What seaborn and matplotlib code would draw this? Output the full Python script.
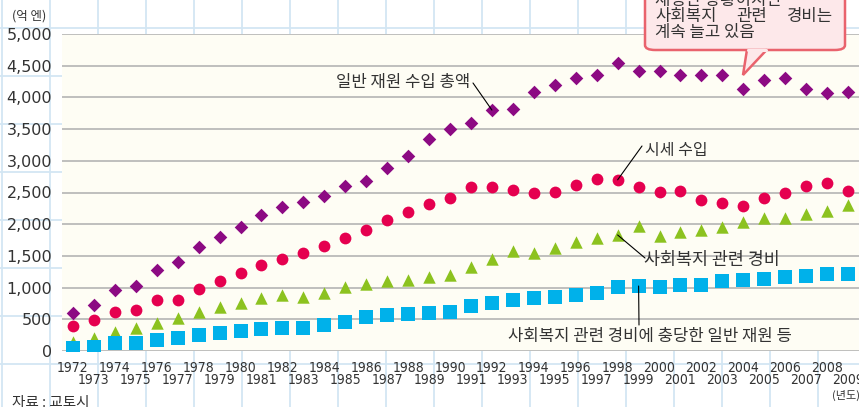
import numpy as np
import pandas as pd
import matplotlib.pyplot as plt
import seaborn as sns
from matplotlib.patches import FancyBboxPatch, Polygon
from matplotlib.lines import Line2D

years = list(range(1972, 2010))

# 일반 재원 수입 총액
general_revenue = [600, 725, 960, 1025, 1280, 1400, 1640, 1800, 1955, 2145,
                   2270, 2350, 2445, 2600, 2680, 2890, 3075, 3345, 3500, 3600,
                   3800, 3820, 4085, 4195, 4300, 4350, 4540, 4415, 4420, 4350,
                   4350, 4350, 4130, 4270, 4300, 4130, 4070, 4085]
# 시세 수입
city_tax = [395, 490, 615, 645, 800, 800, 980, 1100, 1230, 1355,
            1450, 1545, 1655, 1780, 1910, 2065, 2190, 2320, 2415, 2585,
            2585, 2540, 2490, 2510, 2620, 2710, 2700, 2590, 2510, 2525,
            2380, 2330, 2290, 2415, 2495, 2600, 2650, 2525]
# 사회복지 관련 경비
welfare_cost = [145, 200, 300, 360, 440, 520, 615, 695, 755, 835,
                880, 850, 915, 1010, 1055, 1105, 1120, 1165, 1200, 1325,
                1450, 1575, 1545, 1625, 1720, 1780, 1830, 1970, 1815, 1875,
                1910, 1955, 2035, 2100, 2100, 2160, 2210, 2300]
# 사회복지 관련 경비에 충당한 일반 재원 등
welfare_general = [50, 65, 125, 130, 175, 200, 250, 280, 315, 345,
                   365, 365, 410, 460, 530, 570, 590, 600, 615, 710,
                   760, 800, 840, 850, 885, 915, 1010, 1025, 1010, 1040,
                   1040, 1105, 1120, 1135, 1165, 1180, 1215, 1215]

df = pd.DataFrame({'year': years, 'general': general_revenue, 'tax': city_tax,
                   'welfare': welfare_cost, 'welfare_gen': welfare_general})

sns.set_style('white')
plt.rcParams['font.family'] = ['Noto Sans CJK KR', 'DejaVu Sans']

W, H = 859, 407
fig = plt.figure(figsize=(W / 100, H / 100), dpi=100)
fig.patch.set_facecolor('white')

def px(x, y):
    return (x / W, 1 - y / H)

# graph paper background
for x in range(2, W, 48):
    fig.add_artist(Line2D([x / W, x / W], [0, 1], color='#d3e6f3', lw=1.3, zorder=0))
for y in range(28, H, 48):
    fig.add_artist(Line2D([0, 1], [1 - y / H, 1 - y / H], color='#d3e6f3', lw=1.3, zorder=0))

ax = fig.add_axes([62 / W, 1 - 351 / H, 1 - 62 / W, (351 - 34) / H])
ax.set_facecolor('#fefdf4')

sns.scatterplot(data=df, x='year', y='general', marker='D', color='#8c0a83', s=48, linewidth=0, ax=ax, zorder=3)
sns.scatterplot(data=df, x='year', y='tax', marker='o', color='#e5004f', s=72, linewidth=0, ax=ax, zorder=3)
sns.scatterplot(data=df, x='year', y='welfare', marker='^', color='#8cc21f', s=80, linewidth=0, ax=ax, zorder=3)
sns.scatterplot(data=df, x='year', y='welfare_gen', marker='s', color='#00b1ea', s=98, linewidth=0, ax=ax, zorder=3)

ax.set_xlim(1971.48, 2009.52)
ax.set_ylim(0, 5000)
ax.set_yticks(range(0, 5001, 500))
ax.set_yticklabels([f'{v:,}' for v in range(0, 5001, 500)], family='DejaVu Sans', fontsize=11.5, color='#333333')
for v in range(0, 5001, 500):
    ax.axhline(v, color='#b4b4b4', lw=1.2, zorder=1)

even = [y for y in years if y % 2 == 0]
odd = [y for y in years if y % 2 == 1]
tick_font = dict(family='DejaVu Sans', fontstretch='condensed', fontsize=10, color='#333333')
ax.set_xticks(even)
ax.set_xticklabels([str(y) for y in even], **tick_font)
ax.set_xticks(odd, minor=True)
ax.set_xticklabels([str(y) for y in odd], minor=True, **tick_font)
ax.tick_params(axis='x', which='major', length=0, pad=7)
ax.tick_params(axis='x', which='minor', length=0, pad=16)
ax.tick_params(axis='y', length=0, pad=7)
ax.set_xlabel('')
ax.set_ylabel('')
for s in ax.spines.values():
    s.set_visible(False)

tc = '#333333'
fig.text(12 / W, 1 - 16 / H, '(억 엔)', fontsize=9, color=tc, va='center')
fig.text(846 / W, 1 - 395 / H, '(년도)', fontsize=8, color=tc, ha='center', va='center')
fig.text(12 / W, 1 - 403 / H, '자료 : 교토시', fontsize=10.5, color=tc, va='center')

line_kw = dict(arrowstyle='-', color='black', lw=0.8, shrinkA=0, shrinkB=0)

# annotations: labels and leader lines
fig.text(470 / W, 1 - 82 / H, '일반 재원 수입 총액', ha='right', va='center', fontsize=12, color=tc)
ax.annotate('', xy=(1992, 3800), xytext=px(473, 83), textcoords='figure fraction', arrowprops=line_kw)

fig.text(645 / W, 1 - 151 / H, '시세 수입', ha='left', va='center', fontsize=11.5, color=tc)
ax.annotate('', xy=(1998, 2700), xytext=px(642, 146), textcoords='figure fraction', arrowprops=line_kw)

fig.text(644 / W, 1 - 260 / H, '사회복지 관련 경비', ha='left', va='center', fontsize=12.5, color=tc)
ax.annotate('', xy=(1998, 1830), xytext=px(645, 258), textcoords='figure fraction', arrowprops=line_kw)

ax.annotate('', xy=(1999, 1025), xytext=px(639, 325), textcoords='figure fraction', arrowprops=line_kw)
fig.text(650 / W, 1 - 337 / H, '사회복지 관련 경비에 충당한 일반 재원 등', ha='center', va='center', fontsize=12, color=tc)

# callout box
box = FancyBboxPatch(px(645, 50), 200 / W, 72 / H, boxstyle='round,pad=0,rounding_size=0.012',
                     transform=fig.transFigure, facecolor='#fde8ea', edgecolor='#e9636d', lw=1.8, zorder=5)
fig.add_artist(box)
tail = Polygon([px(747, 49.5), px(743, 75), px(767, 49.5)], closed=False, transform=fig.transFigure,
               facecolor='#fde8ea', edgecolor='#e9636d', lw=1.8, zorder=6)
fig.add_artist(tail)
fig.add_artist(Line2D([747.8 / W, 766.2 / W], [1 - 50 / H, 1 - 50 / H], color='#fde8ea', lw=2.2, zorder=7))
fig.text(655 / W, 1 - 1 / H, '재정난 상황이지만', fontsize=12, color=tc, va='center', zorder=8)
fig.text(655 / W, 1 - 17 / H, '사회복지', fontsize=12, color=tc, va='center', zorder=8)
fig.text(752 / W, 1 - 17 / H, '관련', fontsize=12, color=tc, ha='center', va='center', zorder=8)
fig.text(833 / W, 1 - 17 / H, '경비는', fontsize=12, color=tc, ha='right', va='center', zorder=8)
fig.text(655 / W, 1 - 33 / H, '계속 늘고 있음', fontsize=12, color=tc, va='center', zorder=8)

fig.savefig('out.png', dpi=100)
